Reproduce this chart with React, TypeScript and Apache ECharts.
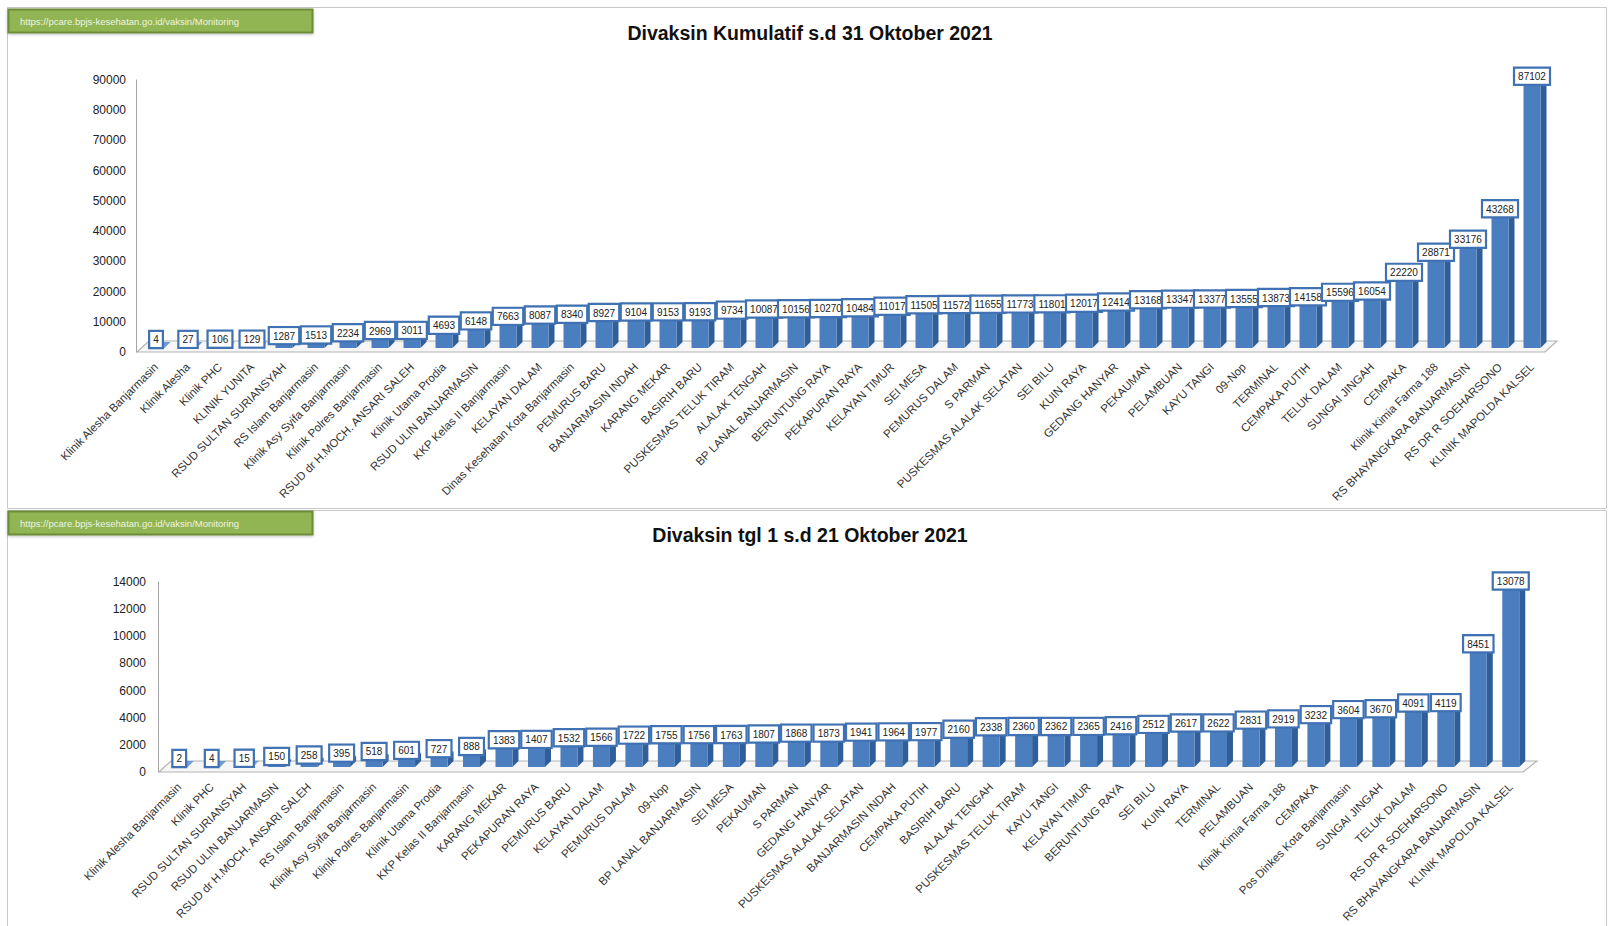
import React, { useEffect, useRef } from 'react';
import * as echarts from 'echarts';

const sourceUrl = 'https://pcare.bpjs-kesehatan.go.id/vaksin/Monitoring';
const topTitle = 'Divaksin Kumulatif s.d 31 Oktober 2021';
const bottomTitle = 'Divaksin tgl 1 s.d 21 Oktober 2021';

const topCategories = [
  'Klinik Alesha Banjarmasin', 'Klinik Alesha', 'Klinik PHC', 'KLINIK YUNITA', 'RSUD SULTAN SURIANSYAH',
  'RS Islam Banjarmasin', 'Klinik Asy Syifa Banjarmasin', 'Klinik Polres Banjarmasin', 'RSUD dr H.MOCH. ANSARI SALEH',
  'Klinik Utama Prodia', 'RSUD ULIN BANJARMASIN', 'KKP Kelas II Banjarmasin', 'KELAYAN DALAM',
  'Dinas Kesehatan Kota Banjarmasin', 'PEMURUS BARU', 'BANJARMASIN INDAH', 'KARANG MEKAR', 'BASIRIH BARU',
  'PUSKESMAS TELUK TIRAM', 'ALALAK TENGAH', 'BP LANAL BANJARMASIN', 'BERUNTUNG RAYA', 'PEKAPURAN RAYA',
  'KELAYAN TIMUR', 'SEI MESA', 'PEMURUS DALAM', 'S PARMAN', 'PUSKESMAS ALALAK SELATAN', 'SEI BILU', 'KUIN RAYA',
  'GEDANG HANYAR', 'PEKAUMAN', 'PELAMBUAN', 'KAYU TANGI', '09-Nop', 'TERMINAL', 'CEMPAKA PUTIH', 'TELUK DALAM',
  'SUNGAI JINGAH', 'CEMPAKA', 'Klinik Kimia Farma 188', 'RS BHAYANGKARA BANJARMASIN', 'RS DR R SOEHARSONO',
  'KLINIK MAPOLDA KALSEL'
];
const topValues = [
  4, 27, 106, 129, 1287, 1513, 2234, 2969, 3011, 4693, 6148, 7663, 8087, 8340, 8927, 9104, 9153, 9193, 9734,
  10087, 10156, 10270, 10484, 11017, 11505, 11572, 11655, 11773, 11801, 12017, 12414, 13168, 13347, 13377,
  13555, 13873, 14158, 15596, 16054, 22220, 28871, 33176, 43268, 87102
];

const bottomCategories = [
  'Klinik Alesha Banjarmasin', 'Klinik PHC', 'RSUD SULTAN SURIANSYAH', 'RSUD ULIN BANJARMASIN',
  'RSUD dr H.MOCH. ANSARI SALEH', 'RS Islam Banjarmasin', 'Klinik Asy Syifa Banjarmasin', 'Klinik Polres Banjarmasin',
  'Klinik Utama Prodia', 'KKP Kelas II Banjarmasin', 'KARANG MEKAR', 'PEKAPURAN RAYA', 'PEMURUS BARU',
  'KELAYAN DALAM', 'PEMURUS DALAM', '09-Nop', 'BP LANAL BANJARMASIN', 'SEI MESA', 'PEKAUMAN', 'S PARMAN',
  'GEDANG HANYAR', 'PUSKESMAS ALALAK SELATAN', 'BANJARMASIN INDAH', 'CEMPAKA PUTIH', 'BASIRIH BARU',
  'ALALAK TENGAH', 'PUSKESMAS TELUK TIRAM', 'KAYU TANGI', 'KELAYAN TIMUR', 'BERUNTUNG RAYA', 'SEI BILU',
  'KUIN RAYA', 'TERMINAL', 'PELAMBUAN', 'Klinik Kimia Farma 188', 'CEMPAKA', 'Pos Dinkes Kota Banjarmasin',
  'SUNGAI JINGAH', 'TELUK DALAM', 'RS DR R SOEHARSONO', 'RS BHAYANGKARA BANJARMASIN', 'KLINIK MAPOLDA KALSEL'
];
const bottomValues = [
  2, 4, 15, 150, 258, 395, 518, 601, 727, 888, 1383, 1407, 1532, 1566, 1722, 1755, 1756, 1763, 1807, 1868,
  1873, 1941, 1964, 1977, 2160, 2338, 2360, 2362, 2365, 2416, 2512, 2617, 2622, 2831, 2919, 3232, 3604, 3670,
  4091, 4119, 8451, 13078
];

const topAxisMin = 0;
const topAxisMax = 90000;
const topAxisStep = 10000;
const bottomAxisMin = 0;
const bottomAxisMax = 14000;
const bottomAxisStep = 2000;

const FRONT = '#4a7ebf';
const SIDE = '#2f5e99';
const TOPFACE = '#6e9bd4';
const LABEL_BORDER = '#3f71b3';
const FONT = '"Liberation Sans", Arial, sans-serif';

function makeRender(shiftY: number, frontW: number, depth: number) {
  return (params: any, api: any) => {
    const i = api.value(0);
    const v = api.value(1);
    const pt = api.coord([i, v]);
    const pb = api.coord([i, 0]);
    const x0 = pt[0] - frontW / 2;
    const x1 = pt[0] + frontW / 2;
    const yb = pb[1] - shiftY;
    const yt = Math.min(pt[1] - shiftY, yb);
    return {
      type: 'group',
      children: [
        {
          type: 'polygon',
          shape: { points: [[x1, yb], [x1 + depth, yb - depth], [x1 + depth, yt - depth], [x1, yt]] },
          style: { fill: SIDE },
        },
        {
          type: 'rect',
          shape: { x: x0, y: yt, width: frontW, height: yb - yt },
          style: { fill: FRONT },
        },
        {
          type: 'polygon',
          shape: { points: [[x0, yt], [x1, yt], [x1 + depth, yt - depth], [x0 + depth, yt - depth]] },
          style: { fill: TOPFACE },
        },
        {
          type: 'text',
          x: pt[0],
          y: yt - 1,
          z2: 20,
          style: {
            text: String(v),
            align: 'center',
            verticalAlign: 'bottom',
            textAlign: 'center',
            textVerticalAlign: 'bottom',
            font: '10px ' + FONT,
            fill: '#222',
            backgroundColor: '#ffffff',
            borderColor: LABEL_BORDER,
            borderWidth: 2.2,
            padding: [3, 3, 2, 3],
          },
        },
      ],
    };
  };
}

function catAxis(gridIndex: number, data: string[]) {
  return {
    type: 'category',
    gridIndex,
    data,
    axisLine: { show: false },
    axisTick: { show: false },
    axisLabel: {
      interval: 0,
      rotate: 45,
      margin: 13,
      fontSize: 11.5,
      fontFamily: FONT,
      color: '#333',
    },
  };
}

function valAxis(gridIndex: number, min: number, max: number, interval: number, offset: number, margin: number) {
  return {
    type: 'value',
    gridIndex,
    min,
    max,
    interval,
    offset,
    axisLine: { show: true, lineStyle: { color: '#a6a6a6', width: 1 } },
    axisTick: { show: false },
    splitLine: { show: false },
    axisLabel: {
      margin,
      fontSize: 12,
      fontFamily: FONT,
      color: '#222',
      formatter: (v: number) => String(v),
    },
  };
}

function greenLabel(y: number) {
  return [
    {
      type: 'rect',
      z: 10,
      shape: { x: 8.5, y, width: 304, height: 23 },
      style: {
        fill: '#92b552',
        stroke: '#6c8c37',
        lineWidth: 2,
        shadowBlur: 3,
        shadowColor: 'rgba(0,0,0,0.25)',
        shadowOffsetY: 1,
      },
    },
    {
      type: 'text',
      z: 11,
      x: 20,
      y: y + 11.5,
      style: {
        text: sourceUrl,
        font: '9.5px ' + FONT,
        fill: '#eef4e2',
        align: 'left',
        verticalAlign: 'middle',
        textAlign: 'left',
        textVerticalAlign: 'middle',
      },
    },
  ];
}

function titleText(y: number, text: string) {
  return {
    type: 'text',
    z: 10,
    x: 810,
    y,
    style: {
      text,
      font: 'bold 19.5px ' + FONT,
      fill: '#111',
      align: 'center',
      verticalAlign: 'middle',
      textAlign: 'center',
      textVerticalAlign: 'middle',
    },
  };
}

function floor(pts: number[][]) {
  return {
    type: 'polygon',
    z: 0,
    shape: { points: pts },
    style: { fill: '#f6f6f6', stroke: '#b4b4b4', lineWidth: 1.2 },
  };
}

export default function App() {
  const ref = useRef<HTMLDivElement>(null);
  useEffect(() => {
    if (!ref.current) return;
    const chart = echarts.init(ref.current, null, { renderer: 'svg' });
    const option: any = {
      animation: false,
      backgroundColor: '#ffffff',
      grid: [
        { left: 140, top: 80, width: 1408, height: 272 },
        { left: 163, top: 582, width: 1364, height: 190 },
      ],
      xAxis: [catAxis(0, topCategories), catAxis(1, bottomCategories)],
      yAxis: [
        valAxis(0, topAxisMin, topAxisMax, topAxisStep, 4, 10),
        valAxis(1, bottomAxisMin, bottomAxisMax, bottomAxisStep, 5, 12),
      ],
      graphic: [
        {
          type: 'rect',
          z: -1,
          shape: { x: 7.5, y: 7.5, width: 1599, height: 501 },
          style: { fill: '#fff', stroke: '#c9c9c9', lineWidth: 1 },
        },
        {
          type: 'rect',
          z: -1,
          shape: { x: 7.5, y: 510.5, width: 1599, height: 440 },
          style: { fill: '#fff', stroke: '#c9c9c9', lineWidth: 1 },
        },
        floor([[137, 352], [1545, 352], [1557, 341], [149, 341]]),
        floor([[159, 772], [1523, 772], [1537, 761], [171, 761]]),
        ...greenLabel(9.5),
        ...greenLabel(511.5),
        titleText(33, topTitle),
        titleText(535, bottomTitle),
      ],
      series: [
        {
          type: 'custom',
          xAxisIndex: 0,
          yAxisIndex: 0,
          z: 3,
          clip: false,
          renderItem: makeRender(4, 17, 6),
          encode: { x: 0, y: 1 },
          data: topValues.map((v, i) => [i, v]),
        },
        {
          type: 'custom',
          xAxisIndex: 1,
          yAxisIndex: 1,
          z: 3,
          clip: false,
          renderItem: makeRender(5, 17, 6),
          encode: { x: 0, y: 1 },
          data: bottomValues.map((v, i) => [i, v]),
        },
      ],
    };
    chart.setOption(option);
    return () => chart.dispose();
  }, []);
  return (
    <div
      ref={ref}
      style={{ position: 'fixed', left: 0, top: 0, width: 1610, height: 926, background: '#fff' }}
    />
  );
}
